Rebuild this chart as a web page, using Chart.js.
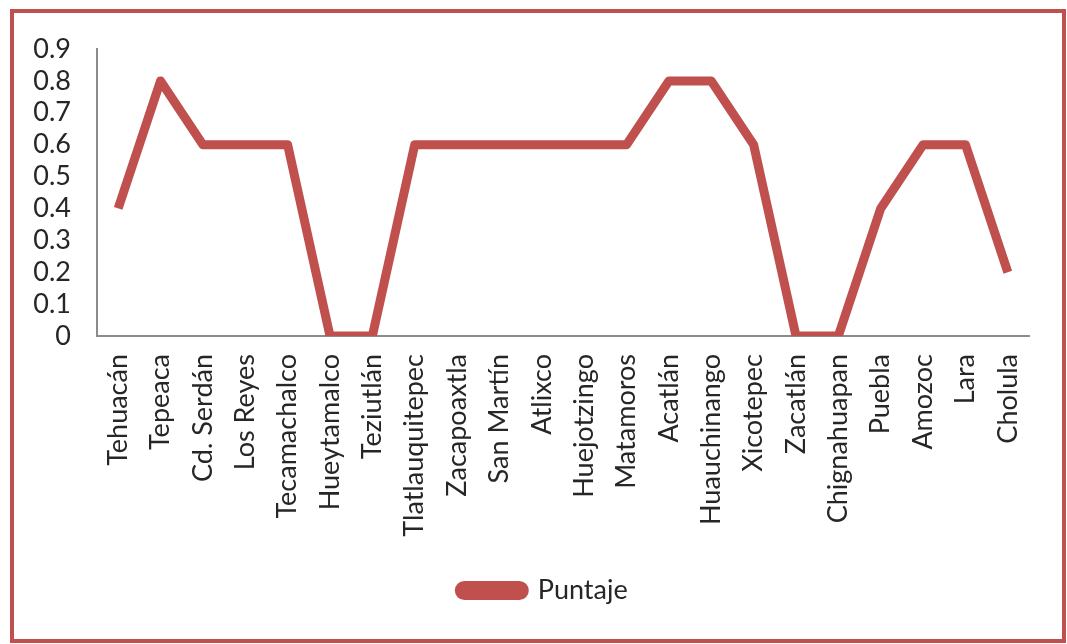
<!DOCTYPE html>
<html>
<head>
<meta charset="utf-8">
<script src="https://cdn.jsdelivr.net/npm/chart.js@4/dist/chart.umd.min.js"></script>
<style>
html,body{margin:0;padding:0;background:#fff;}
#wrap{width:1067px;height:644px;position:relative;}
</style>
</head>
<body>
<div id="wrap"><canvas id="c" width="1067" height="644"></canvas></div>
<script>
const categories = ['Tehuacán','Tepeaca','Cd. Serdán','Los Reyes','Tecamachalco','Hueytamalco','Teziutlán','Tlatlauquitepec','Zacapoaxtla','San Martín','Atlixco','Huejotzingo','Matamoros','Acatlán','Huauchinango','Xicotepec','Zacatlán','Chignahuapan','Puebla','Amozoc','Lara','Cholula'];
const puntaje = [0.4,0.8,0.6,0.6,0.6,0,0,0.6,0.6,0.6,0.6,0.6,0.6,0.8,0.8,0.6,0,0,0.4,0.6,0.6,0.2];
const yTickLabels = ['0','0.1','0.2','0.3','0.4','0.5','0.6','0.7','0.8','0.9'];
const seriesName = 'Puntaje';

const RED = '#C0504D';
const TXT = '#262626';
const FONT = 'Lato, "Open Sans", sans-serif';

const framePlugin = {
  id: 'frame',
  afterLayout(chart) {
    const lg = chart.legend;
    if (lg) {
      lg.left = 58;
      lg.right = 1029;
      lg.width = lg.right - lg.left;
    }
  },
  beforeDraw(chart) {
    const ctx = chart.ctx;
    ctx.save();
    ctx.fillStyle = '#fff';
    ctx.fillRect(0, 0, chart.width, chart.height);
    ctx.restore();
  },
  afterDraw(chart) {
    const ctx = chart.ctx;
    ctx.save();
    ctx.strokeStyle = RED;
    ctx.lineWidth = 4;
    ctx.strokeRect(12, 11, 1052, 630);
    ctx.restore();
  }
};

new Chart(document.getElementById('c'), {
  type: 'line',
  data: {
    labels: categories,
    datasets: [{
      label: seriesName,
      data: puntaje,
      borderColor: RED,
      backgroundColor: RED,
      borderWidth: 9,
      borderJoinStyle: 'round',
      borderCapStyle: 'butt',
      pointRadius: 0,
      pointHoverRadius: 0,
      tension: 0,
      fill: false
    }]
  },
  options: {
    responsive: false,
    animation: false,
    devicePixelRatio: 1,
    layout: { padding: { left: 20, right: 38, top: 49, bottom: 30 } },
    plugins: {
      tooltip: { enabled: false },
      legend: {
        display: true,
        position: 'bottom',
        labels: {
          color: TXT,
          font: { family: FONT, size: 27 },
          boxWidth: 65,
          boxHeight: 10,
          useBorderRadius: true,
          borderRadius: 5,
          padding: 10
        }
      }
    },
    scales: {
      x: {
        type: 'category',
        offset: true,
        grid: { display: false, drawTicks: false },
        border: { display: true, color: '#8c8c8c', width: 2 },
        ticks: {
          color: TXT,
          font: { family: FONT, size: 27 },
          autoSkip: false,
          maxRotation: 90,
          minRotation: 90,
          padding: 18
        },
        afterFit(scale) { scale.height = 231; }
      },
      y: {
        min: 0,
        max: 0.9,
        grid: { display: false, drawTicks: false },
        border: { display: true, color: '#8c8c8c', width: 2 },
        ticks: {
          stepSize: 0.1,
          autoSkip: false,
          color: TXT,
          font: { family: FONT, size: 27, lineHeight: 1 },
          padding: 26,
          callback: (v, i) => yTickLabels[i]
        },
        afterFit(scale) { scale.width = 77; }
      }
    }
  },
  plugins: [framePlugin]
});
</script>
</body>
</html>
